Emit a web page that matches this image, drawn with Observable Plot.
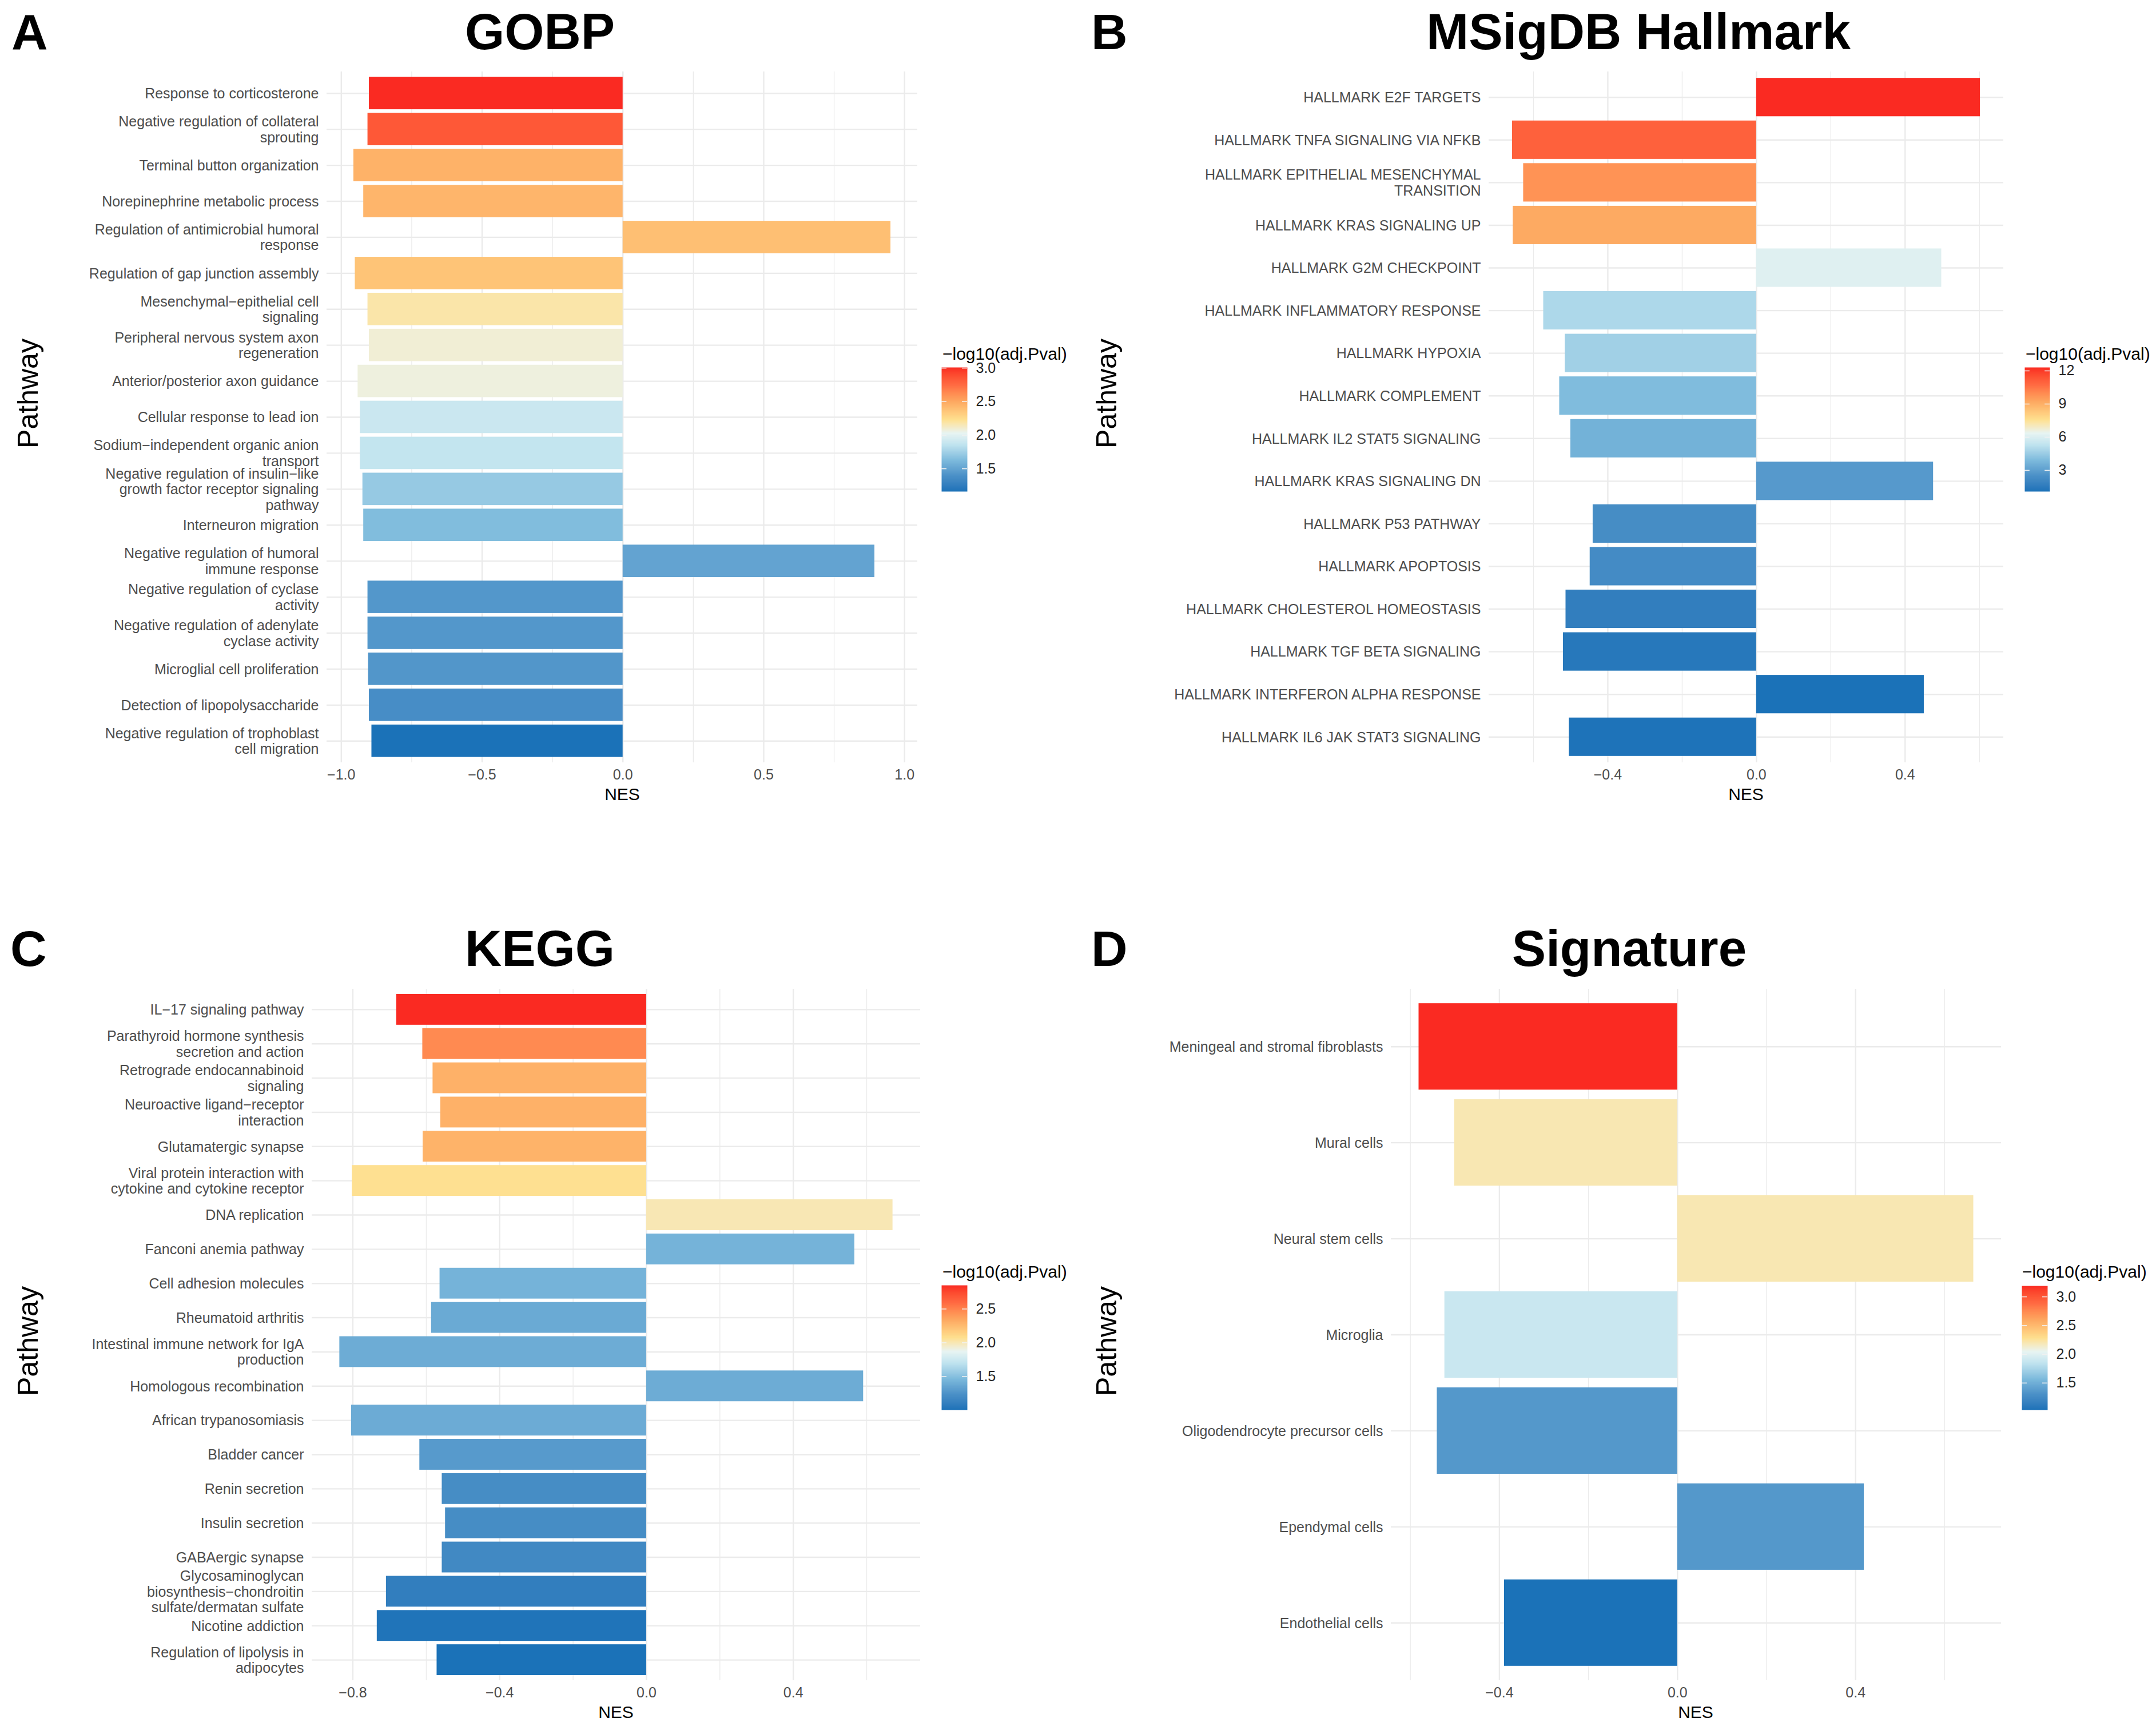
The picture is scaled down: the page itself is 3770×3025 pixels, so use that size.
<!DOCTYPE html>
<html>
<head>
<meta charset="utf-8">
<script src="https://cdn.jsdelivr.net/npm/d3@7"></script>
<script src="https://cdn.jsdelivr.net/npm/@observablehq/plot@0.6"></script>
<style>
  html, body { margin: 0; padding: 0; background: #fff; }
  #fig { position: relative; width: 3770px; height: 3025px; background: #fff; overflow: hidden; }
  #fig > svg { position: absolute; overflow: visible; }
</style>
</head>
<body>
<div id="fig"></div>
<script>
// ---------------- DATA ----------------
const gobpPathways = [
  "Response to corticosterone",
  "Negative regulation of collateral\nsprouting",
  "Terminal button organization",
  "Norepinephrine metabolic process",
  "Regulation of antimicrobial humoral\nresponse",
  "Regulation of gap junction assembly",
  "Mesenchymal\u2212epithelial cell\nsignaling",
  "Peripheral nervous system axon\nregeneration",
  "Anterior/posterior axon guidance",
  "Cellular response to lead ion",
  "Sodium\u2212independent organic anion\ntransport",
  "Negative regulation of insulin\u2212like\ngrowth factor receptor signaling\npathway",
  "Interneuron migration",
  "Negative regulation of humoral\nimmune response",
  "Negative regulation of cyclase\nactivity",
  "Negative regulation of adenylate\ncyclase activity",
  "Microglial cell proliferation",
  "Detection of lipopolysaccharide",
  "Negative regulation of trophoblast\ncell migration"
];
const gobpNES = [-0.901, -0.906, -0.956, -0.921, 0.951, -0.951, -0.906, -0.901, -0.941, -0.933,
                 -0.933, -0.924, -0.921, 0.894, -0.906, -0.906, -0.904, -0.901, -0.892];
const gobpLogP = [3.01, 2.84, 2.455, 2.44, 2.39, 2.37, 2.18, 2.09, 2.07, 1.90,
                  1.87, 1.71, 1.64, 1.50, 1.43, 1.43, 1.425, 1.37, 1.16];

const hallmarkPathways = [
  "HALLMARK E2F TARGETS",
  "HALLMARK TNFA SIGNALING VIA NFKB",
  "HALLMARK EPITHELIAL MESENCHYMAL\nTRANSITION",
  "HALLMARK KRAS SIGNALING UP",
  "HALLMARK G2M CHECKPOINT",
  "HALLMARK INFLAMMATORY RESPONSE",
  "HALLMARK HYPOXIA",
  "HALLMARK COMPLEMENT",
  "HALLMARK IL2 STAT5 SIGNALING",
  "HALLMARK KRAS SIGNALING DN",
  "HALLMARK P53 PATHWAY",
  "HALLMARK APOPTOSIS",
  "HALLMARK CHOLESTEROL HOMEOSTASIS",
  "HALLMARK TGF BETA SIGNALING",
  "HALLMARK INTERFERON ALPHA RESPONSE",
  "HALLMARK IL6 JAK STAT3 SIGNALING"
];
const hallmarkNES = [0.602, -0.657, -0.627, -0.655, 0.498, -0.573, -0.515, -0.530,
                     -0.500, 0.476, -0.440, -0.448, -0.513, -0.520, 0.451, -0.504];
const hallmarkLogP = [12.31, 11.02, 9.78, 9.17, 6.13, 4.91, 4.64, 3.97,
                      3.61, 2.79, 2.34, 2.27, 1.64, 1.35, 1.08, 1.14];

const keggPathways = [
  "IL\u221217 signaling pathway",
  "Parathyroid hormone synthesis\nsecretion and action",
  "Retrograde endocannabinoid\nsignaling",
  "Neuroactive ligand\u2212receptor\ninteraction",
  "Glutamatergic synapse",
  "Viral protein interaction with\ncytokine and cytokine receptor",
  "DNA replication",
  "Fanconi anemia pathway",
  "Cell adhesion molecules",
  "Rheumatoid arthritis",
  "Intestinal immune network for IgA\nproduction",
  "Homologous recombination",
  "African trypanosomiasis",
  "Bladder cancer",
  "Renin secretion",
  "Insulin secretion",
  "GABAergic synapse",
  "Glycosaminoglycan\nbiosynthesis\u2212chondroitin\nsulfate/dermatan sulfate",
  "Nicotine addiction",
  "Regulation of lipolysis in\nadipocytes"
];
const keggNES = [-0.681, -0.610, -0.582, -0.561, -0.609, -0.802, 0.671, 0.567, -0.563, -0.586,
                 -0.836, 0.591, -0.804, -0.618, -0.557, -0.548, -0.557, -0.709, -0.734, -0.571];
const keggLogP = [2.85, 2.47, 2.30, 2.30, 2.29, 2.07, 2.00, 1.43, 1.43, 1.38,
                  1.39, 1.39, 1.385, 1.29, 1.21, 1.21, 1.18, 1.10, 1.02, 1.004];

const signaturePathways = [
  "Meningeal and stromal fibroblasts",
  "Mural cells",
  "Neural stem cells",
  "Microglia",
  "Oligodendrocyte precursor cells",
  "Ependymal cells",
  "Endothelial cells"
];
const signatureNES = [-0.581, -0.501, 0.665, -0.523, -0.540, 0.419, -0.389];
const signatureLogP = [3.19, 2.20, 2.20, 1.89, 1.35, 1.35, 1.03];

// tick values
const gobpMajor = [-1, -0.5, 0, 0.5, 1];
const gobpMinor = [-0.75, -0.25, 0.25, 0.75];
const hallmarkMajor = [-0.4, 0, 0.4];
const hallmarkMinor = [-0.6, -0.2, 0.2, 0.6];
const keggMajor = [-0.8, -0.4, 0, 0.4];
const keggMinor = [-0.6, -0.2, 0.2, 0.6];
const signatureMajor = [-0.4, 0, 0.4];
const signatureMinor = [-0.6, -0.2, 0.2, 0.6];

const gobpLegendTicks = [1.5, 2.0, 2.5, 3.0];
const hallmarkLegendTicks = [3, 6, 9, 12];
const keggLegendTicks = [1.5, 2.0, 2.5];
const signatureLegendTicks = [1.5, 2.0, 2.5, 3.0];

// ---------------- STYLE ----------------
const FONT = '"Liberation Sans", Arial, Helvetica, sans-serif';
const GRID = "#EBEBEB";
const rampStops = [0, 0.125, 0.25, 0.375, 0.47, 0.58, 0.72, 0.86, 1];
const rampColors = ["#1B72B8", "#4A90C7", "#7CBADC", "#BFE3EF", "#E8F4F2",
                    "#FEE08F", "#FDAA62", "#FF6A42", "#FA2A22"];
const ramp = d3.scaleLinear().domain(rampStops).range(rampColors)
  .interpolate(d3.interpolateLab).clamp(true);

const minus = s => s.replace("-", "\u2212");
const fmt1 = d => d === 0 ? "0.0" : minus(d.toFixed(1));
const fmt0 = d => String(d);

const fig = document.getElementById("fig");

function panel(cfg) {
  const data = cfg.names.map((name, i) => ({name, nes: cfg.nes[i], p: cfg.logp[i]}));
  const [pmin, pmax] = d3.extent(cfg.logp);
  const [nmin, nmax] = d3.extent([0, ...cfg.nes]);
  const pad = (nmax - nmin) * 0.05;
  const color = {type: "linear", domain: [pmin, pmax], interpolate: ramp};

  const g = cfg.geom;
  const chart = Plot.plot({
    width: g.w, height: g.h,
    marginLeft: g.fx1 - g.left, marginRight: g.left + g.w - g.fx2,
    marginTop: g.fy1 - g.top, marginBottom: g.top + g.h - g.fy2,
    style: {fontFamily: FONT, fontSize: "25px", color: "#4D4D4D", background: "transparent", overflow: "visible"},
    x: {domain: [nmin - pad, nmax + pad]},
    y: {domain: cfg.names, paddingInner: 0.1, paddingOuter: 0.15, round: false},
    color,
    marks: [
      Plot.gridX(cfg.minor, {stroke: GRID, strokeOpacity: 1, strokeWidth: 1.3}),
      Plot.gridX(cfg.major, {stroke: GRID, strokeOpacity: 1, strokeWidth: 2.4}),
      Plot.gridY({stroke: GRID, strokeOpacity: 1, strokeWidth: 2.4}),
      Plot.barX(data, {x: "nes", y: "name", fill: "p"}),
      Plot.axisX(cfg.major, {tickSize: 0, tickPadding: 12, tickFormat: fmt1, label: null, fontSize: 25}),
      Plot.axisY({tickSize: 0, tickPadding: 14, label: null, fontSize: 25, lineHeight: 1.1})
    ]
  });
  chart.style.left = g.left + "px";
  chart.style.top = g.top + "px";
  fig.appendChild(chart);

  // colour bar legend
  const L = cfg.legend;
  const barW = L.x2 - L.x1, barH = L.y2 - L.y1;
  const leg = Plot.plot({
    width: barW + 80, height: barH + 20,
    marginLeft: 0, marginRight: 80, marginTop: 10, marginBottom: 10,
    style: {fontFamily: FONT, fontSize: "25px", color: "#262626", background: "transparent", overflow: "visible"},
    x: {domain: [0, 1], axis: null},
    y: {domain: [pmin, pmax], axis: null},
    color,
    marks: [
      Plot.raster({x1: 0, x2: 1, y1: pmin, y2: pmax, width: 2, height: 300,
                   fill: (x, y) => y, imageRendering: "auto"}),
      Plot.ruleY(cfg.legendTicks, {x1: 0, x2: 0.2, stroke: "#F2F2F2", strokeWidth: 1.5}),
      Plot.ruleY(cfg.legendTicks, {x1: 0.8, x2: 1, stroke: "#F2F2F2", strokeWidth: 1.5}),
      Plot.axisY(cfg.legendTicks, {anchor: "right", tickSize: 0, tickPadding: 15,
                                   tickFormat: cfg.legendFmt, label: null, fontSize: 25})
    ]
  });
  leg.style.left = L.x1 + "px";
  leg.style.top = (L.y1 - 10) + "px";
  fig.appendChild(leg);
}

const panels = [
  {names: gobpPathways, nes: gobpNES, logp: gobpLogP, major: gobpMajor, minor: gobpMinor,
   legendTicks: gobpLegendTicks, legendFmt: fmt1,
   geom: {left: 0, top: 0, w: 1620, h: 1420, fx1: 571, fx2: 1604, fy1: 125, fy2: 1333},
   legend: {x1: 1646, x2: 1691, y1: 642, y2: 859}},
  {names: hallmarkPathways, nes: hallmarkNES, logp: hallmarkLogP, major: hallmarkMajor, minor: hallmarkMinor,
   legendTicks: hallmarkLegendTicks, legendFmt: fmt0,
   geom: {left: 1885, top: 0, w: 1640, h: 1420, fx1: 2603, fx2: 3503, fy1: 125, fy2: 1333},
   legend: {x1: 3540, x2: 3584, y1: 642, y2: 859}},
  {names: keggPathways, nes: keggNES, logp: keggLogP, major: keggMajor, minor: keggMinor,
   legendTicks: keggLegendTicks, legendFmt: fmt1,
   geom: {left: 0, top: 1603, w: 1620, h: 1420, fx1: 545, fx2: 1609, fy1: 1729, fy2: 2938},
   legend: {x1: 1646, x2: 1691, y1: 2247, y2: 2465}},
  {names: signaturePathways, nes: signatureNES, logp: signatureLogP, major: signatureMajor, minor: signatureMinor,
   legendTicks: signatureLegendTicks, legendFmt: fmt1,
   geom: {left: 1885, top: 1603, w: 1620, h: 1420, fx1: 2432, fx2: 3499, fy1: 1729, fy2: 2938},
   legend: {x1: 3535, x2: 3580, y1: 2248, y2: 2465}}
];
panels.forEach(panel);

// ---------------- TEXT OVERLAY ----------------
const ov = d3.select(fig).append("svg")
  .attr("width", 3770).attr("height", 3025)
  .style("left", "0px").style("top", "0px")
  .style("pointer-events", "none")
  .attr("font-family", FONT);

const letters = [["A", 20, 86], ["B", 1908, 86], ["C", 18, 1689], ["D", 1908, 1689]];
letters.forEach(([t, x, y]) => ov.append("text").attr("x", x).attr("y", y)
  .attr("font-size", 88).attr("font-weight", "bold").attr("fill", "#000").text(t));

const titles = [["GOBP", 944, 86], ["MSigDB Hallmark", 2865, 86], ["KEGG", 944, 1689], ["Signature", 2849, 1689]];
titles.forEach(([t, x, y]) => ov.append("text").attr("x", x).attr("y", y)
  .attr("text-anchor", "middle").attr("font-size", 89).attr("font-weight", "bold").attr("fill", "#000").text(t));

const yTitles = [[66, 688], [1952, 688], [66, 2345], [1952, 2345]];
yTitles.forEach(([x, y]) => ov.append("text")
  .attr("transform", `translate(${x},${y}) rotate(-90)`)
  .attr("text-anchor", "middle").attr("font-size", 50).attr("fill", "#000").text("Pathway"));

const xTitles = [[1088, 1399], [3053, 1399], [1077, 3004], [2965, 3004]];
xTitles.forEach(([x, y]) => ov.append("text").attr("x", x).attr("y", y)
  .attr("text-anchor", "middle").attr("font-size", 30).attr("fill", "#000").text("NES"));

const legTitles = [[1648, 629], [3542, 629], [1648, 2234], [3536, 2234]];
legTitles.forEach(([x, y]) => ov.append("text").attr("x", x).attr("y", y)
  .attr("font-size", 30).attr("fill", "#000").text("\u2212log10(adj.Pval)"));
</script>
</body>
</html>
